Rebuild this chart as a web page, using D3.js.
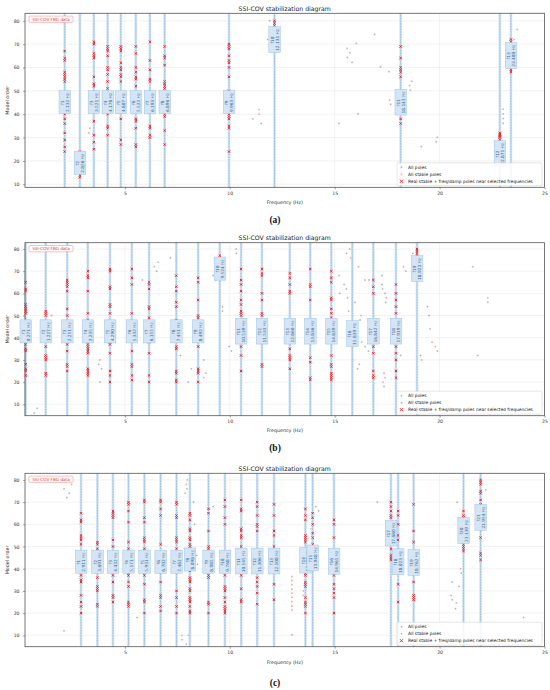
<!DOCTYPE html>
<html>
<head>
<meta charset="utf-8">
<style>
  body { margin: 0; background: #fff; }
  svg { display: block; font-family: "DejaVu Sans", sans-serif; }
  .grid line { stroke: #e4e4e4; stroke-width: 0.5; }
  .axis path { display: none; }
  .axis line { stroke: #444; stroke-width: 0.5; }
  .axis text { font-size: 4.6px; fill: #333; font-family: "DejaVu Sans", sans-serif; }
  .band { fill: #d2e4f4; }
  .fline { stroke: #4a8fd0; stroke-width: 0.6; stroke-dasharray: 0.8,0.8; }
  .pole { stroke: #8a8a8a; stroke-width: 0.45; fill: none; }
  .stable { fill: #f2a3a3; }
  .red { stroke: #f01818; stroke-width: 0.9; fill: none; }
  .lab rect { fill: #d4e5f6; stroke: #9dc1e6; stroke-width: 0.5; }
  .lab text { font-size: 4.3px; fill: #3d6890; }
  .frame { fill: none; stroke: #555; stroke-width: 0.8; }
  .title { font-size: 6.2px; fill: #222; }
  .alabel { font-size: 4.8px; fill: #333; }
  .cap { font-family: "Liberation Serif", serif; font-weight: bold; font-size: 9.5px; fill: #111; }
  .legend rect { fill: #fff; fill-opacity: 0.85; stroke: #ccc; stroke-width: 0.5; }
  .legend text { font-size: 4.4px; fill: #222; }
  .tag rect { fill: #fff; stroke: #f08080; stroke-width: 0.5; }
  .tag text { font-size: 4.2px; fill: #e03030; }
</style>
</head>
<body>
<svg width="550" height="690"></svg>
<script src="https://d3js.org/d3.v7.min.js"></script>
<script>
var xTicks = [5, 10, 15, 20, 25];
var yTicks = [10, 20, 30, 40, 50, 60, 70, 80];
var legendLabels = ["All poles", "All stable poles", "Real stable + freq/damp poles near selected frequencies"];

// ---- (a)
var freqsA = [2.132, 2.856, 3.521, 4.178, 4.807, 5.522, 6.193, 6.896, 9.963, 12.131, 18.143, 22.871, 23.400];
var labelOrderA = [45, 19, 45, 45, 45, 45, 45, 45, 45, 71.8, 45, 23, 65];
var redA = [
  [67,64,63,58,57,56,55,54,40,38,36,32,29,26,24],
  [24,23,14,13],
  [71,70,66,65,64,56,53,52,37,31,28,25],
  [69,68,67,65,60,59,57,54,51,40,35,34,31],
  [69,68,67,62,60,59,57,56,54,38,29,27],
  [69,66,60,58,56,55,52,38,37,34,27,26],
  [71,63,59,55,54,35,34,31,30],
  [69,65,64,61,54,53,52,51,40,39,33,27],
  [70,69,68,65,63,62,60,56,50,40,39,38,35,34,24],
  [80,79,78],
  [69,64,60,59,58,56,38,36],
  [32,31.5,31,30.5,30,29,28],
  [72,71,59,58]
];
var polesA = [[3.33,34],[2.86,10.7],[11.1,38],[11.5,36],[11.9,80],[11.9,70],[16.9,74.2],[16.03,70.3],
  [15.6,64.3],[15.83,62.2],[17.19,60.3],[17.59,58.2],[18.6,50.3],[17.67,44.2],[16.11,40.1],[15.2,36.1],
  [19.13,26.1],[19.84,28.2],[19.89,30.1],[23.03,38.1],[23.03,36.1],[23.7,76.3]];
var stableA = [[3.28,32],[11.4,40],[11.4,42],[11.8,72],[15.6,68.2],[15.73,66.3],[18.68,54.2],[18.57,52.2],
  [17.62,46],[23.03,42.2],[23.03,40.1],[23.55,72],[22.87,12],[22.87,15]];

// ---- (b)
var freqsB = [0.271, 1.227, 2.251, 3.235, 4.290, 5.332, 6.155, 7.451, 8.492, 9.524, 10.539, 11.533,
  12.860, 13.836, 14.839, 15.839, 16.842, 17.919, 18.923];
var labelOrderB = [42.7,42.7,42.7,42.7,42.7,42.7,42.7,42.7,42.7,71,42.8,42.8,42.8,42.8,42.8,41.7,42.8,42.8,71];
var redB = [
  [65,62,61,55,54,53,52,51,37,35,34,28,26,25,23],
  [52,51,50,36,32,31,30,24,23],
  [66,65,64,63,61,53,50,37,34,28,27,25],
  [70,68,67,61,51,48,37,36,35,34,33,26,25,24,23],
  [71,70,63,62,55,54,51,38,37,33,25,23,20],
  [71,67,64,51,34,28,27,23,21],
  [65,64,62,54,53,49,38,33,23,20],
  [68,63,61,56,54,48,36,35,25,24,21,20],
  [67,65,57,50,49,36,26,25,24,20],
  [77,76],
  [71,66,64,61,57,55,52,51,50,36,32,25],
  [71,69,68,60,57,51,50,28,27],
  [69,67,64,61,60,35,32,31,30,26],
  [71,64,63,57,31,29,22,21],
  [70,67,65,58,57,53,51,49,32,28,27,24,23,22,21],
  [],
  [66,63,60,36,33,25,23,22],
  [64,60,57,54,51,36,33,30,25,22],
  [80,79,78,77]
];
var polesB = [[0.68,6],[0.82,8.2],[1.51,50],[1.22,14],[1.22,12],[3.75,28],[3.81,30],[3.89,26],[3.81,20],
  [5.84,66],[6.40,72],[6.51,70],[6.59,74],[7.17,76],[7.65,32],[8.02,20],[8.17,26],[8.76,30],[8.76,22],
  [8.86,24],[9.21,68],[9.33,66],[9.65,52],[9.65,54],[9.97,36],[10.08,34],[10.32,78],[15.21,68],[15.24,60],
  [15.45,64],[15.56,62],[15.61,58],[15.56,78],[15.66,52],[15.97,56],[15.88,30],[16.09,26],[16.14,72],
  [16.21,48],[16.17,28],[16.44,66],[16.64,66],[16.45,36],[16.61,34],[16.29,38],[17.25,68],[17.25,64],
  [17.28,62],[17.4,60],[17.46,58],[17.43,56],[17.35,18],[18.39,70],[18.14,32],[18.73,78],[19.1,32],
  [19.14,30],[19.42,54],[19.5,50],[19.54,44],[19.9,34],[21.58,72],[22.3,56],[21.82,32]];
var stableB = [[10.3,80],[15.72,80],[15.77,76],[16.25,50],[17.35,24],[17.3,20],[17.4,22],[18.28,72],
  [19.64,38],[19.8,36],[22.3,58]];

// ---- (c)
var freqsC = [2.911, 3.691, 4.432, 5.171, 5.931, 6.702, 7.462, 8.098, 8.985, 9.768, 10.545, 11.306,
  12.108, 13.605, 13.948, 14.965, 17.680, 18.023, 18.762, 21.139, 21.954];
var labelOrderC = [43,43,43,43,43,43,43,44,43,43,43.3,43.3,43.3,43.7,44.7,43.2,55.9,43,42.7,57,63];
var redC = [
  [65,62,61,55,54,53,51,37,35,34,28,25,23,20],
  [52,51,49,36,32,31,30,24,23],
  [66,65,64,63,53,50,37,34,28,27,25],
  [70,69,66,61,52,49,38,37,34,32,25,24,23],
  [71,70,63,61,54,53,52,49,37,33,26,25,20],
  [71,70,67,64,51,34,28,27,23,21],
  [70,69,64,63,54,53,52,49,39,30,27,23,20],
  [65,64,62,58,57,54,53,51,50,49,39,36,35,34,31,30,27,26,25,23,21,20],
  [67,65,57,50,49,37,36,25,24,20],
  [71,68,63,60,37,32,31,30,27,25,23,22,21,20],
  [71,67,66,58,57,55,54,50,37,31,26,25],
  [70,68,64,60,59,57,36,34,32,29,24],
  [69,64,57,55,50,33,26],
  [67,64,62,55,54,53,52,38,37,34,33,32,27,25,24,23,20],
  [65,63,60,56,54,51],
  [62,60,54,37,33,31,29,27,20],
  [70,68,66,64,63,49,46,45,44],
  [66,64,60,55,53,33,25],
  [69,57,52,34,28,27,26],
  [66,64,63,51,50,49,48],
  [80,79,78,75,74,71,69,54,47,46,44]
];
var polesC = [[2.1,76],[2.23,72],[2.35,74],[2.1,12],[5.58,18],[7.72,8],[7.96,76],[8.03,10],[7.93,6],
  [8.27,70],[8.32,60],[8.43,46],[8.46,42],[9.2,68],[12.96,10.2],[14.1,68],[14.23,66],[13.88,58],[17.03,70],
  [20.84,70],[20.92,32],[20.6,34],[20.6,26],[20.76,22],[24.0,18],[21.95,44]];
var stableC = [[2.46,78],[7.72,10],[7.93,78],[7.88,74],[7.98,80],[12.96,36.5],[12.96,34.7],[12.96,32.8],
  [12.96,30.8],[12.96,29],[12.96,27.2],[12.96,25.2],[12.96,23.2],[12.96,21.4],[13.49,28],[13.52,30],
  [21.0,40],[21.04,38],[20.55,28],[20.8,24.5],[22.2,75.5]];

var svg = d3.select("svg");
var left = 25, right = 544.5;

var panels = [
  {cap: "(a)", top: 13.3, bottom: 187.3, ymin: 8.7, ymax: 83.2, titleY: 8, xlabY: 202.3, capY: 220,
   freqs: freqsA, labs: labelOrderA, red: redA, poles: polesA, stable: stableA},
  {cap: "(b)", top: 242.7, bottom: 415.7, ymin: 4.86, ymax: 82.84, titleY: 237.7, xlabY: 430.7, capY: 448,
   freqs: freqsB, labs: labelOrderB, red: redB, poles: polesB, stable: stableB},
  {cap: "(c)", top: 473.3, bottom: 646.7, ymin: 4.86, ymax: 83.0, titleY: 468.3, xlabY: 662, capY: 683,
   freqs: freqsC, labs: labelOrderC, red: redC, poles: polesC, stable: stableC}
];

function plus(h) { return "M" + (-h) + ",0H" + h + "M0," + (-h) + "V" + h; }
function cross(h) { return "M" + (-h) + "," + (-h) + "L" + h + "," + h + "M" + (-h) + "," + h + "L" + h + "," + (-h); }

panels.forEach(function(p, pi) {
  var x = d3.scaleLinear().domain([0.24, 25]).range([left, right]);
  var y = d3.scaleLinear().domain([p.ymin, p.ymax]).range([p.bottom, p.top]);
  var g = svg.append("g");

  // grid
  var grid = g.append("g").attr("class", "grid");
  grid.selectAll(".gx").data(xTicks.slice(0, 4)).enter().append("line")
    .attr("x1", d => x(d)).attr("x2", d => x(d)).attr("y1", p.top).attr("y2", p.bottom);
  grid.selectAll(".gy").data(yTicks).enter().append("line")
    .attr("x1", left).attr("x2", right).attr("y1", d => y(d)).attr("y2", d => y(d));

  // all poles / stable poles
  g.selectAll(".pole").data(p.poles).enter().append("path").attr("class", "pole")
    .attr("transform", d => "translate(" + x(d[0]) + "," + y(d[1]) + ")").attr("d", plus(1));
  g.selectAll(".stable").data(p.stable).enter().append("circle").attr("class", "stable")
    .attr("cx", d => x(d[0])).attr("cy", d => y(d[1])).attr("r", 0.9);

  // selected frequency lines
  g.selectAll(".band").data(p.freqs).enter().append("rect").attr("class", "band")
    .attr("x", d => x(d) - 1.3).attr("width", 2.6).attr("y", p.top).attr("height", p.bottom - p.top);
  g.selectAll(".fline").data(p.freqs).enter().append("line").attr("class", "fline")
    .attr("x1", d => x(d)).attr("x2", d => x(d)).attr("y1", p.top).attr("y2", p.bottom);

  // red markers
  p.freqs.forEach(function(f, i) {
    g.selectAll(null).data(p.red[i]).enter().append("path").attr("class", "red")
      .attr("transform", d => "translate(" + x(f) + "," + y(d) + ")").attr("d", cross(1.2));
  });

  // axes
  g.append("g").attr("class", "axis").attr("transform", "translate(0," + p.bottom + ")")
    .call(d3.axisBottom(x).tickValues(xTicks).tickSize(2).tickPadding(2.5).tickFormat(d3.format("d")));
  g.append("g").attr("class", "axis").attr("transform", "translate(" + left + ",0)")
    .call(d3.axisLeft(y).tickValues(yTicks).tickSize(2).tickPadding(3.5).tickFormat(d3.format("d")));

  g.append("rect").attr("class", "frame").attr("x", left).attr("y", p.top)
    .attr("width", right - left).attr("height", p.bottom - p.top);

  // frequency labels
  p.freqs.forEach(function(f, i) {
    var lab = g.append("g").attr("class", "lab")
      .attr("transform", "translate(" + x(f) + "," + y(p.labs[i]) + ")");
    var t = lab.append("text").attr("transform", "rotate(-90)").attr("text-anchor", "middle");
    t.append("tspan").attr("x", 0).attr("dy", "-0.2em").text("f" + (i + 1));
    t.append("tspan").attr("x", 0).attr("dy", "1.15em").text(f.toFixed(3) + " Hz");
    var bb = t.node().getBBox();
    lab.insert("rect", "text").attr("transform", "rotate(-90)")
      .attr("x", bb.x - 1.6).attr("y", bb.y - 0.8).attr("width", bb.width + 3.2).attr("height", bb.height + 1.6);
  });

  // texts
  svg.append("text").attr("class", "title").attr("x", (left + right) / 2).attr("y", p.titleY)
    .attr("text-anchor", "middle").attr("dominant-baseline", "central").text("SSI-COV stabilization diagram");
  svg.append("text").attr("class", "alabel").attr("x", (left + right) / 2).attr("y", p.xlabY)
    .attr("text-anchor", "middle").attr("dominant-baseline", "central").text("Frequency (Hz)");
  svg.append("text").attr("class", "alabel")
    .attr("transform", "translate(7," + ((p.top + p.bottom) / 2) + ") rotate(-90)")
    .attr("text-anchor", "middle").attr("dominant-baseline", "central").text("Model order");
  svg.append("text").attr("class", "cap").attr("x", 275).attr("y", p.capY)
    .attr("text-anchor", "middle").attr("dominant-baseline", "central").text(p.cap);

  // tag
  var tag = svg.append("g").attr("class", "tag");
  tag.append("rect").attr("x", 29).attr("y", p.top + 2.8).attr("width", 44).attr("height", 6.3).attr("rx", 1);
  tag.append("text").attr("x", 51).attr("y", p.top + 6).attr("text-anchor", "middle")
    .attr("dominant-baseline", "central").text("SSI-COV FBG data");

  // legend
  var lg = svg.append("g").attr("class", "legend")
    .attr("transform", "translate(397," + (p.bottom - 24.5) + ")");
  lg.append("rect").attr("width", 145).attr("height", 23).attr("rx", 1);
  legendLabels.forEach(function(s, k) {
    var yy = 4.5 + k * 7;
    if (k === 0) lg.append("path").attr("class", "pole").attr("transform", "translate(4.5," + yy + ")").attr("d", plus(1));
    if (k === 1) lg.append("circle").attr("class", "stable").attr("cx", 4.5).attr("cy", yy).attr("r", 0.9);
    if (k === 2) lg.append("path").attr("class", "red").attr("transform", "translate(4.5," + yy + ")").attr("d", cross(1.6));
    lg.append("text").attr("x", 11).attr("y", yy).attr("dominant-baseline", "central").text(s);
  });
});
</script>
</body>
</html>
